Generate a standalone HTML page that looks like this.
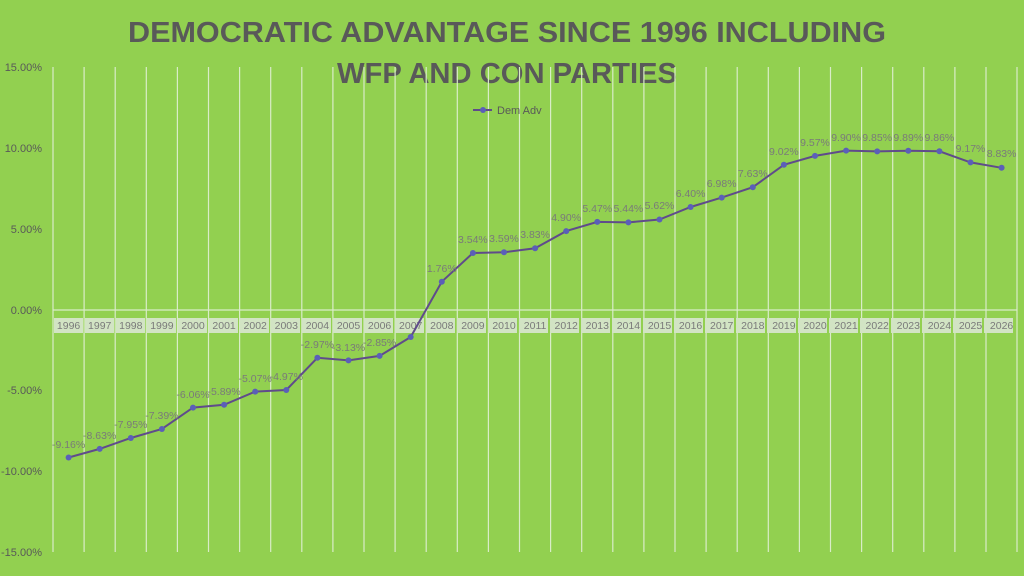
<!DOCTYPE html>
<html><head><meta charset="utf-8"><style>
html,body{margin:0;padding:0;background:#92D050;}
svg{display:block;font-family:"Liberation Sans",sans-serif;}
</style></head><body>
<svg width="1024" height="576" viewBox="0 0 1024 576" xmlns="http://www.w3.org/2000/svg">
<rect width="1024" height="576" fill="#92D050"/>
<g fill="#595959" font-weight="bold" font-size="29" text-anchor="middle">
<text x="507" y="42" textLength="758" lengthAdjust="spacingAndGlyphs">DEMOCRATIC ADVANTAGE SINCE 1996 INCLUDING</text>
<text x="507" y="83" textLength="340" lengthAdjust="spacingAndGlyphs">WFP AND CON PARTIES</text>
</g>
<g stroke="#d9ecc8" stroke-width="1.2">
<line x1="53" y1="67" x2="53" y2="552"/><line x1="84.1" y1="67" x2="84.1" y2="552"/><line x1="115.2" y1="67" x2="115.2" y2="552"/><line x1="146.3" y1="67" x2="146.3" y2="552"/><line x1="177.4" y1="67" x2="177.4" y2="552"/><line x1="208.5" y1="67" x2="208.5" y2="552"/><line x1="239.6" y1="67" x2="239.6" y2="552"/><line x1="270.7" y1="67" x2="270.7" y2="552"/><line x1="301.8" y1="67" x2="301.8" y2="552"/><line x1="332.9" y1="67" x2="332.9" y2="552"/><line x1="364" y1="67" x2="364" y2="552"/><line x1="395.1" y1="67" x2="395.1" y2="552"/><line x1="426.2" y1="67" x2="426.2" y2="552"/><line x1="457.3" y1="67" x2="457.3" y2="552"/><line x1="488.4" y1="67" x2="488.4" y2="552"/><line x1="519.5" y1="67" x2="519.5" y2="552"/><line x1="550.6" y1="67" x2="550.6" y2="552"/><line x1="581.7" y1="67" x2="581.7" y2="552"/><line x1="612.8" y1="67" x2="612.8" y2="552"/><line x1="643.9" y1="67" x2="643.9" y2="552"/><line x1="675" y1="67" x2="675" y2="552"/><line x1="706.1" y1="67" x2="706.1" y2="552"/><line x1="737.2" y1="67" x2="737.2" y2="552"/><line x1="768.3" y1="67" x2="768.3" y2="552"/><line x1="799.4" y1="67" x2="799.4" y2="552"/><line x1="830.5" y1="67" x2="830.5" y2="552"/><line x1="861.6" y1="67" x2="861.6" y2="552"/><line x1="892.7" y1="67" x2="892.7" y2="552"/><line x1="923.8" y1="67" x2="923.8" y2="552"/><line x1="954.9" y1="67" x2="954.9" y2="552"/><line x1="986" y1="67" x2="986" y2="552"/><line x1="1017" y1="67" x2="1017" y2="552"/>
<line x1="53" y1="310" x2="1017" y2="310"/>
</g>
<g fill="#595959" font-size="11" text-anchor="end">
<text x="42" y="71">15.00%</text><text x="42" y="152">10.00%</text><text x="42" y="233">5.00%</text><text x="42" y="314">0.00%</text><text x="42" y="394">-5.00%</text><text x="42" y="475">-10.00%</text><text x="42" y="556">-15.00%</text>
</g>
<g font-size="10.5" fill="#7a7a7a" text-anchor="middle">
<g fill="#d2e4c4">
<rect x="54" y="318" width="29" height="15"/><rect x="85" y="318" width="29" height="15"/><rect x="116" y="318" width="29" height="15"/><rect x="147" y="318" width="29" height="15"/><rect x="178" y="318" width="29" height="15"/><rect x="209" y="318" width="29" height="15"/><rect x="240" y="318" width="29" height="15"/><rect x="271" y="318" width="29" height="15"/><rect x="302" y="318" width="29" height="15"/><rect x="333" y="318" width="29" height="15"/><rect x="364" y="318" width="29" height="15"/><rect x="395" y="318" width="29" height="15"/><rect x="426" y="318" width="29" height="15"/><rect x="457" y="318" width="29" height="15"/><rect x="488" y="318" width="29" height="15"/><rect x="519" y="318" width="29" height="15"/><rect x="550" y="318" width="29" height="15"/><rect x="581" y="318" width="29" height="15"/><rect x="612" y="318" width="29" height="15"/><rect x="643" y="318" width="29" height="15"/><rect x="674" y="318" width="29" height="15"/><rect x="705" y="318" width="29" height="15"/><rect x="736" y="318" width="29" height="15"/><rect x="767" y="318" width="29" height="15"/><rect x="798" y="318" width="29" height="15"/><rect x="829" y="318" width="29" height="15"/><rect x="860" y="318" width="29" height="15"/><rect x="891" y="318" width="29" height="15"/><rect x="922" y="318" width="29" height="15"/><rect x="953" y="318" width="29" height="15"/><rect x="984" y="318" width="29" height="15"/>
</g>
<text x="68.6" y="329">1996</text><text x="99.7" y="329">1997</text><text x="130.8" y="329">1998</text><text x="161.9" y="329">1999</text><text x="193" y="329">2000</text><text x="224.1" y="329">2001</text><text x="255.2" y="329">2002</text><text x="286.3" y="329">2003</text><text x="317.4" y="329">2004</text><text x="348.5" y="329">2005</text><text x="379.6" y="329">2006</text><text x="410.7" y="329">2007</text><text x="441.8" y="329">2008</text><text x="472.9" y="329">2009</text><text x="504" y="329">2010</text><text x="535.1" y="329">2011</text><text x="566.2" y="329">2012</text><text x="597.3" y="329">2013</text><text x="628.4" y="329">2014</text><text x="659.5" y="329">2015</text><text x="690.6" y="329">2016</text><text x="721.7" y="329">2017</text><text x="752.8" y="329">2018</text><text x="783.9" y="329">2019</text><text x="815" y="329">2020</text><text x="846.1" y="329">2021</text><text x="877.2" y="329">2022</text><text x="908.3" y="329">2023</text><text x="939.4" y="329">2024</text><text x="970.5" y="329">2025</text><text x="1001.6" y="329">2026</text>
</g>
<polyline fill="none" stroke="#5f4b8b" stroke-width="2" points="68.6,457.5 99.7,448.9 130.8,438 161.9,429 193,407.6 224.1,404.8 255.2,391.6 286.3,390 317.4,357.8 348.5,360.4 379.6,355.9 410.7,337 441.8,281.7 472.9,253 504,252.2 535.1,248.3 566.2,231.1 597.3,221.9 628.4,222.4 659.5,219.5 690.6,207 721.7,197.6 752.8,187.2 783.9,164.8 815,155.9 846.1,150.6 877.2,151.4 908.3,150.8 939.4,151.3 970.5,162.4 1001.6,167.8"/>
<g fill="#5b5fb8">
<circle cx="68.6" cy="457.5" r="3"/><circle cx="99.7" cy="448.9" r="3"/><circle cx="130.8" cy="438" r="3"/><circle cx="161.9" cy="429" r="3"/><circle cx="193" cy="407.6" r="3"/><circle cx="224.1" cy="404.8" r="3"/><circle cx="255.2" cy="391.6" r="3"/><circle cx="286.3" cy="390" r="3"/><circle cx="317.4" cy="357.8" r="3"/><circle cx="348.5" cy="360.4" r="3"/><circle cx="379.6" cy="355.9" r="3"/><circle cx="410.7" cy="337" r="3"/><circle cx="441.8" cy="281.7" r="3"/><circle cx="472.9" cy="253" r="3"/><circle cx="504" cy="252.2" r="3"/><circle cx="535.1" cy="248.3" r="3"/><circle cx="566.2" cy="231.1" r="3"/><circle cx="597.3" cy="221.9" r="3"/><circle cx="628.4" cy="222.4" r="3"/><circle cx="659.5" cy="219.5" r="3"/><circle cx="690.6" cy="207" r="3"/><circle cx="721.7" cy="197.6" r="3"/><circle cx="752.8" cy="187.2" r="3"/><circle cx="783.9" cy="164.8" r="3"/><circle cx="815" cy="155.9" r="3"/><circle cx="846.1" cy="150.6" r="3"/><circle cx="877.2" cy="151.4" r="3"/><circle cx="908.3" cy="150.8" r="3"/><circle cx="939.4" cy="151.3" r="3"/><circle cx="970.5" cy="162.4" r="3"/><circle cx="1001.6" cy="167.8" r="3"/>
</g>
<g fill="#7a7a7a" font-size="10.5" text-anchor="middle">
<text x="68.6" y="448">-9.16%</text><text x="99.7" y="439">-8.63%</text><text x="130.8" y="428">-7.95%</text><text x="161.9" y="419">-7.39%</text><text x="193" y="398">-6.06%</text><text x="224.1" y="395">-5.89%</text><text x="255.2" y="382">-5.07%</text><text x="286.3" y="380">-4.97%</text><text x="317.4" y="348">-2.97%</text><text x="348.5" y="351">-3.13%</text><text x="379.6" y="346">-2.85%</text><text x="441.8" y="272">1.76%</text><text x="472.9" y="243">3.54%</text><text x="504" y="242">3.59%</text><text x="535.1" y="238">3.83%</text><text x="566.2" y="221">4.90%</text><text x="597.3" y="212">5.47%</text><text x="628.4" y="212">5.44%</text><text x="659.5" y="209">5.62%</text><text x="690.6" y="197">6.40%</text><text x="721.7" y="187">6.98%</text><text x="752.8" y="177">7.63%</text><text x="783.9" y="155">9.02%</text><text x="815" y="146">9.57%</text><text x="846.1" y="141">9.90%</text><text x="877.2" y="141">9.85%</text><text x="908.3" y="141">9.89%</text><text x="939.4" y="141">9.86%</text><text x="970.5" y="152">9.17%</text><text x="1001.6" y="157">8.83%</text>
</g>
<line x1="473" y1="110" x2="492" y2="110" stroke="#5f4b8b" stroke-width="2"/>
<circle cx="483" cy="110" r="3" fill="#5b5fb8"/>
<text x="497" y="114" font-size="11" fill="#595959">Dem Adv</text>
</svg>
</body></html>
